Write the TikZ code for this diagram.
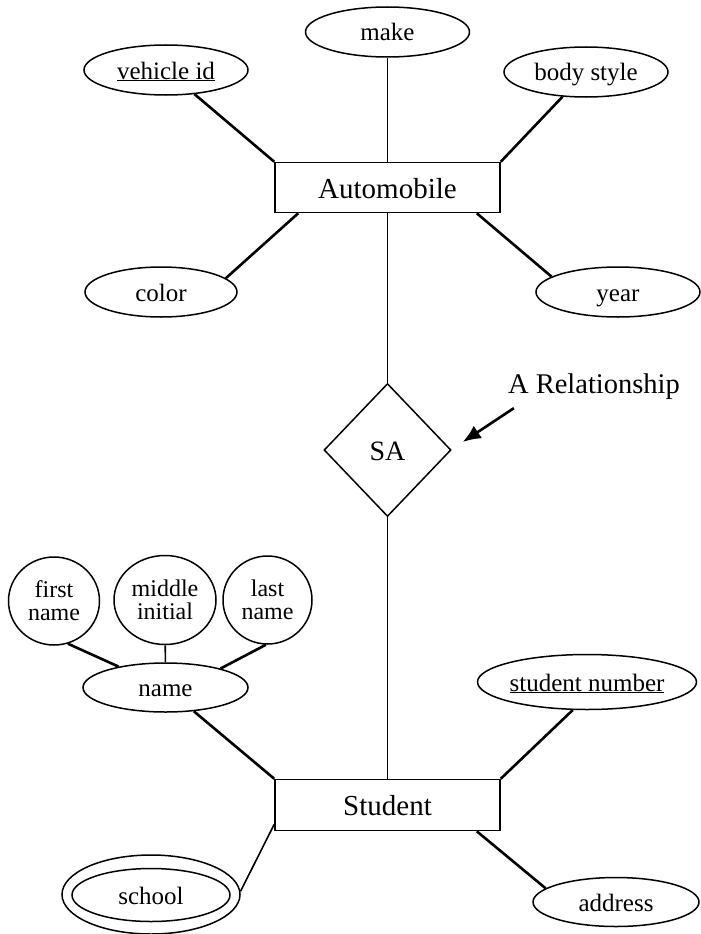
\documentclass[tikz,border=0pt]{standalone}
\usepackage{fontspec}
\setmainfont{Liberation Serif}
\usetikzlibrary{shapes.geometric,calc,arrows.meta}
\begin{document}
\begin{tikzpicture}[x=1pt,y=-1pt,
  attr/.style={ellipse,draw,line width=1.5pt,inner sep=0pt,text height=18pt,text depth=0pt,font=\fontsize{25}{22}\selectfont},
  comp/.style={attr,align=center,text height=,text depth=,font=\fontsize{24}{23}\selectfont},
  entity/.style={rectangle,draw,line width=1.5pt,minimum width=225pt,minimum height=50pt,inner sep=0pt,text height=21pt,text depth=0pt,font=\fontsize{29}{32}\selectfont},
  relship/.style={diamond,draw,line width=1.5pt,minimum width=127pt,minimum height=133pt,inner sep=0pt,text height=20pt,text depth=0pt,font=\fontsize{28}{32}\selectfont},
  heavy/.style={line width=2.6pt},
  medium/.style={line width=1.6pt},
  light/.style={line width=1pt}
]
\useasboundingbox (0,0) rectangle (701,934);

% Automobile entity and its attributes
\node[attr,minimum width=164pt,minimum height=50pt] (make) at (387.5,32) {make};
\node[attr,minimum width=164pt,minimum height=50pt] (vid) at (166,70) {\underline{vehicle id}};
\node[attr,minimum width=164pt,minimum height=50pt] (body) at (586,72) {body style};
\node[entity] (auto) at (387.5,187.5) {Automobile};
\node[attr,minimum width=152pt,minimum height=50pt] (color) at (161,292) {color};
\node[attr,minimum width=164pt,minimum height=50pt] (year) at (618,292) {year};

% Relationship
\node[relship] (sa) at (387.5,450) {SA};
\node[inner sep=0pt,font=\fontsize{28.5}{32}\selectfont] (relabel) at (594,387) {A Relationship};

% Student entity and its attributes
\node[comp,minimum width=91pt,minimum height=88pt] (fn) at (54,601) {first\\name};
\node[comp,minimum width=102pt,minimum height=89pt] (mi) at (165,600) {middle\\initial};
\node[comp,minimum width=89pt,minimum height=88pt] (ln) at (267.5,600) {last\\name};
\node[attr,minimum width=165pt,minimum height=49pt] (name) at (165.5,687.5) {name};
\node[entity,minimum height=51pt] (stu) at (387.5,805) {Student};
\node[attr,minimum width=212pt,minimum height=55pt] (sn) at (587,682) {\underline{student number}};
\node[attr,minimum width=158pt,minimum height=53pt] (school) at (151,895) {school};
\node[ellipse,draw,line width=1.5pt,inner sep=0pt,minimum width=178pt,minimum height=79pt] (schoolo) at (151,894.5) {};
\node[attr,minimum width=166pt,minimum height=49pt] (addr) at (616,902) {address};

% Connectors
\draw[light] (make) -- (auto);
\draw[light] (auto) -- (sa);
\draw[light] (sa) -- (stu);

\draw[heavy] (auto.north west) -- (vid);
\draw[heavy] (auto.north east) -- (body);
\draw[heavy] ($(auto.south west)+(24,0)$) -- (color.12);
\draw[heavy] ($(auto.south east)+(-24,0)$) -- (year.167);

\draw[heavy] (fn.-72) -- (name.156);
\draw[medium] (mi) -- (name);
\draw[heavy] (ln.-92) -- (name.19);

\draw[heavy] (stu.north west) -- (name);
\draw[heavy] (stu.north east) -- (sn.243);
\draw[medium] ($(stu.south west)+(0,-7)$) -- (schoolo.2);
\draw[heavy] ($(stu.south east)+(-24,0)$) -- (addr.169);

\draw[heavy,-{Latex[length=18pt,width=15pt]}] ($(relabel.south west)+(6,8)$) -- ($(sa.east)+(11,-8)$);
\end{tikzpicture}
\end{document}
